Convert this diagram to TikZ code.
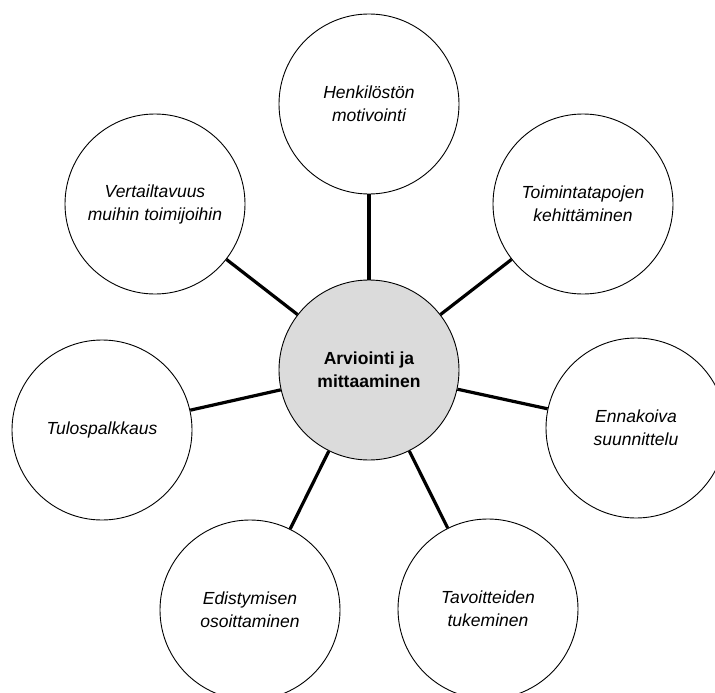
\documentclass[tikz,border=0pt]{standalone}
\usepackage{fontspec}
\setmainfont{Liberation Sans}
\begin{document}
\begin{tikzpicture}[x=1pt,y=-1pt,
  outer/.style={circle,draw=black,line width=0.9pt,fill=white,minimum size=180pt,inner sep=0pt,align=center,font=\itshape\fontsize{17.5}{23}\selectfont},
  hub/.style={circle,draw=black,line width=0.9pt,fill=black!14,minimum size=180pt,inner sep=0pt,align=center,font=\bfseries\fontsize{17.5}{23}\selectfont},
  spoke/.style={line width=3.2pt}]
\useasboundingbox (0,0) rectangle (715,693);
\clip (0,0) rectangle (715,693);
\node[hub] (c) at (369,370) {Arviointi ja\\mittaaminen};
\node[outer] (n1) at (369,104) {Henkilöstön\\motivointi};
\node[outer] (n2) at (583,204) {Toimintatapojen\\kehittäminen};
\node[outer] (n3) at (636,428) {Ennakoiva\\suunnittelu};
\node[outer] (n4) at (488,609) {Tavoitteiden\\tukeminen};
\node[outer] (n5) at (250,610) {Edistymisen\\osoittaminen};
\node[outer] (n6) at (102,430) {Tulospalkkaus};
\node[outer] (n7) at (155,204) {Vertailtavuus\\muihin toimijoihin};
\foreach \n in {n1,n2,n3,n4,n5,n6,n7}{\draw[spoke] (c) -- (\n);}
\end{tikzpicture}
\end{document}
